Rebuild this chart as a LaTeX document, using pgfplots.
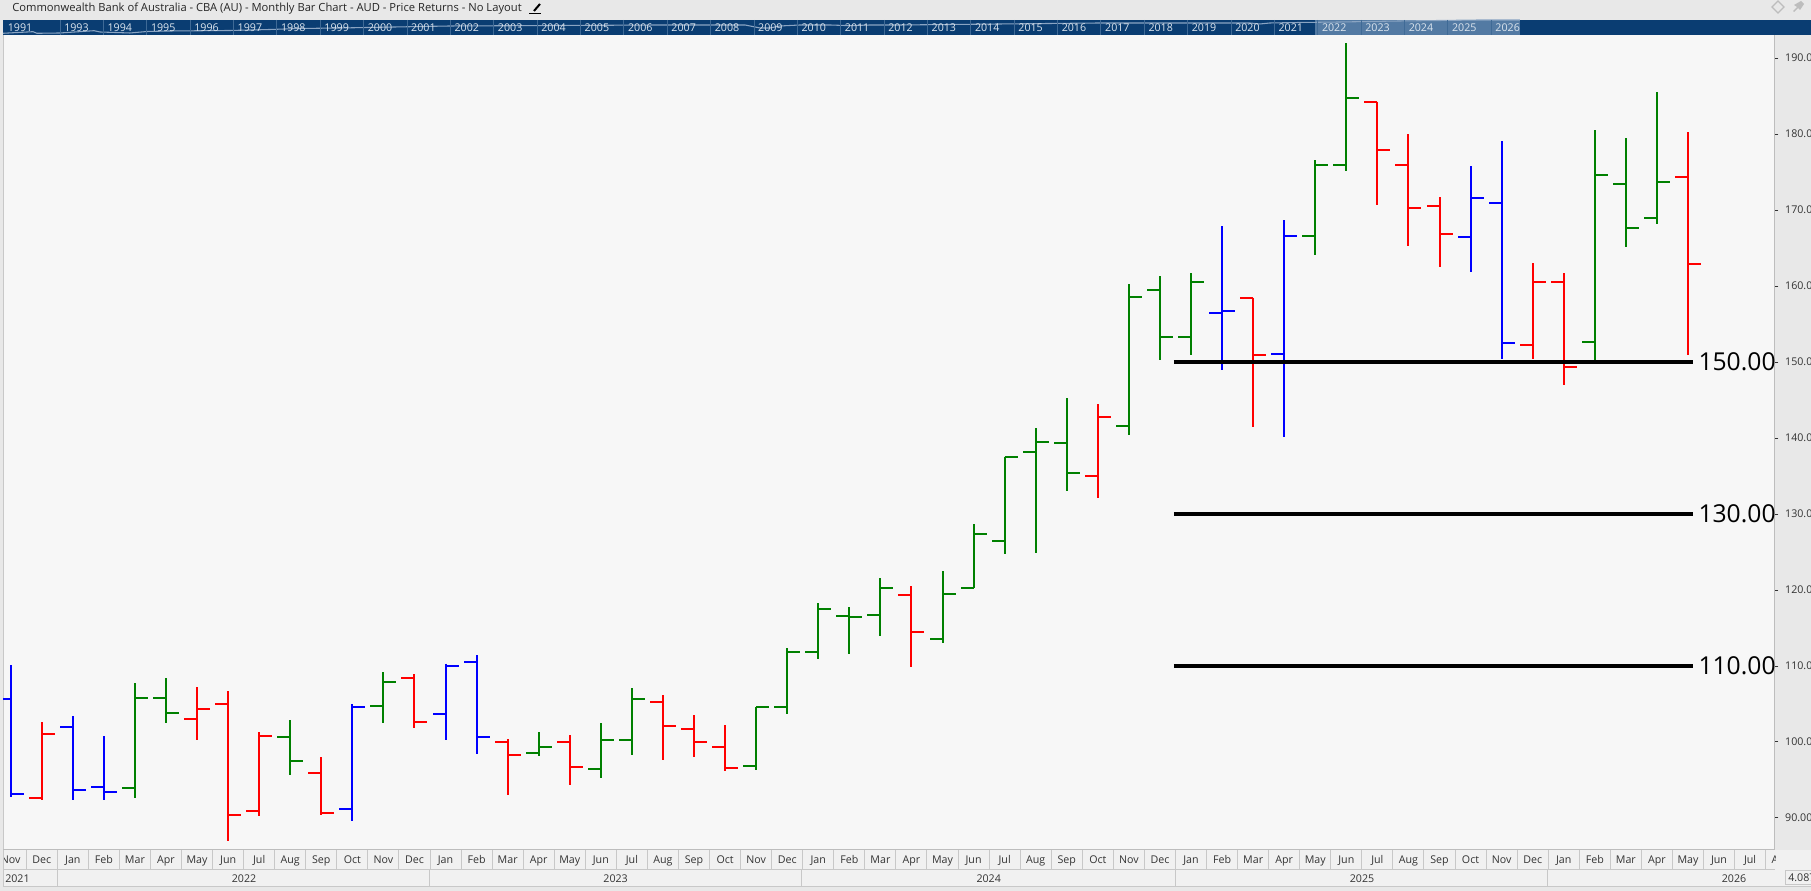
\documentclass[border=0pt]{standalone}
\usepackage{fontspec}
\setmainfont{Open Sans}
\usepackage{pgfplots}
\usepackage{pgfplotstable}
\pgfplotsset{compat=1.18}
\definecolor{navb}{HTML}{0A3D72}
\definecolor{navs}{HTML}{537AA3}
\definecolor{navd}{HTML}{3F6A96}
\definecolor{navl}{HTML}{DCE5EE}
\definecolor{spark}{HTML}{8AA4C2}
\definecolor{barg}{HTML}{008000}
\definecolor{plotbg}{HTML}{F7F7F7}
\definecolor{shell}{HTML}{E8E8E8}
\definecolor{band}{HTML}{F1F1F1}
\definecolor{divi}{HTML}{C8C8C8}
\definecolor{axl}{HTML}{BDBDBD}
\definecolor{txt}{HTML}{333333}
\pgfplotstableread{
i o h l c
0 105.66 110.13 92.72 93.16
2 101.97 103.38 92.41 93.68
3 94.12 100.74 92.41 93.42
11 91.18 104.95 89.65 104.60
14 103.68 110.31 100.31 110.00
15 110.53 111.40 98.46 100.66
39 156.45 167.85 148.95 156.71
41 151.10 168.64 140.18 166.58
47 166.45 175.74 161.84 171.58
48 170.96 179.03 150.40 152.50
}\tblue
\pgfplotstableread{
i o h l c
1 92.63 102.59 92.41 101.05
6 103.03 107.19 100.31 104.34
7 105.04 106.67 87.02 90.39
8 90.92 101.27 90.31 100.79
10 95.92 97.98 90.35 90.66
13 108.42 108.90 101.88 102.67
16 100.04 100.35 93.03 98.29
18 100.04 100.88 94.38 96.71
21 105.30 106.14 97.67 102.10
22 101.71 103.50 98.07 100.00
23 99.34 102.19 96.22 96.58
29 119.34 120.48 109.91 114.47
35 135.00 144.43 132.15 142.76
40 158.42 158.46 141.49 150.92
44 184.25 184.25 170.66 177.89
45 175.92 179.95 165.26 170.26
46 170.53 171.67 162.50 166.84
49 152.24 162.98 150.40 160.52
50 160.52 161.67 146.97 149.34
54 174.34 180.22 150.92 162.89
}\tred
\pgfplotstableread{
i o h l c
4 93.99 107.72 92.67 105.79
5 105.79 108.38 102.54 103.86
9 100.66 102.85 95.70 97.50
12 104.74 109.17 102.54 107.89
17 98.55 101.27 98.20 99.34
19 96.49 102.45 95.30 100.26
20 100.26 107.06 98.33 105.65
24 96.84 104.65 96.36 104.60
25 104.60 112.32 103.73 111.84
26 111.84 118.24 110.96 117.50
27 116.58 117.72 111.62 116.44
28 116.71 121.53 114.00 120.26
30 113.55 122.45 113.07 119.47
31 120.26 128.64 120.26 127.36
32 126.45 137.54 124.78 137.50
33 138.16 141.27 124.91 139.47
34 139.34 145.22 133.07 135.39
36 141.58 160.26 140.44 158.55
37 159.47 161.31 150.31 153.29
38 153.29 161.71 150.92 160.53
42 166.58 176.53 164.08 175.92
43 175.92 191.93 175.13 184.74
51 152.63 180.48 150.00 174.60
52 173.42 179.43 165.13 167.63
53 168.95 185.48 168.16 173.68
}\tgreen
\newcommand\ohlc[2]{%
  \addplot[draw=none,mark=none,forget plot,error bars/.cd,y dir=minus,y explicit,error mark=none,
    error bar style={line width=1.5pt,color=#2}]
    table[x=i,y=h,y error expr=\thisrow{h}-\thisrow{l}]{#1};
  \addplot[draw=none,mark=none,forget plot,error bars/.cd,x dir=minus,x fixed=0.4185,error mark=none,
    error bar style={line width=1.5pt,color=#2}]
    table[x=i,y=o]{#1};
  \addplot[draw=none,mark=none,forget plot,error bars/.cd,x dir=plus,x fixed=0.4185,error mark=none,
    error bar style={line width=1.5pt,color=#2}]
    table[x=i,y=c]{#1};
}
\newcommand\fs{\fontsize{8}{9.6}\selectfont}
\begin{document}
\begin{tikzpicture}
\path[use as bounding box] (0,0) rectangle (1358.25pt,668.25pt);
\begin{scope}[shift={(0,668.25pt)},x=0.75pt,y=-0.75pt]
  \fill[shell] (0,0) rectangle (1811,891);
  \fill[navb] (3,20) rectangle (1811,35);
  \fill[navs] (1315,20) rectangle (1520,35);
  \fill[plotbg] (3,35) rectangle (1775,850);
  \fill[band] (3,850) rectangle (1811,887);
  \draw[divi,line width=0.75pt] (3,35)--(3,887);
  \draw[divi,line width=0.75pt] (3,870)--(1775,870);
  \draw[divi,line width=0.75pt] (3,887)--(1811,887);
  \foreach \i in {0,...,56}{
    \pgfmathsetmacro\xx{10.7+31.06*(\i+0.5)}
    \draw[divi,line width=0.75pt] (\xx,850)--(\xx,870);
  }
  \foreach \xx in {57.7,429.5,801.6,1175,1547.6}{
    \draw[divi,line width=0.75pt] (\xx,870)--(\xx,887);
  }
  \fill[band] (1785,870) rectangle (1811,885);
  \draw[divi,line width=0.75pt] (1785.5,870.5) rectangle (1812,885);
\end{scope}
% overview sparkline in the navigation band, in pixel coordinates
\begin{axis}[at={(0pt,0pt)},anchor=south west,scale only axis,width=1358.25pt,height=668.25pt,
  xmin=0,xmax=1811,ymin=0,ymax=891,y dir=reverse,hide axis]
  \addplot[spark,line width=0.8pt] coordinates {
    (3,33.3)(33,31.7)(37,33.3)(60,33)(94,30.7)(100,32)(130,33)(147,31.5)(170,31)(230,30.5)
    (270,29.5)(300,28.5)(340,28)(450,26)(560,25.5)(660,25)(710,25)(745,25)(750,26)(755,27)
    (760,28)(770,28)(780,26)(800,25)(830,25)(850,25.7)(870,25)(900,25)(950,24.5)(1000,24)
    (1100,23)(1200,23)(1250,23)(1260,24)(1270,23)(1300,22.5)(1340,22)(1400,21)(1440,20.5)(1480,20)(1520,20)};
\end{axis}
\begin{axis}[at={(2.25pt,30.75pt)},anchor=south west,scale only axis,
  width=1329pt,height=611.25pt,
  xmin=-0.248,xmax=56.80,ymin=85.79,ymax=193.03,
  axis y line*=right,axis x line*=bottom,
  axis line style={-,draw=axl,line width=0.75pt},
  tick align=outside,major tick length=2.6pt,
  xtick={0,...,56},
  xticklabels={Nov,Dec,Jan,Feb,Mar,Apr,May,Jun,Jul,Aug,Sep,Oct,Nov,Dec,Jan,Feb,Mar,Apr,May,Jun,Jul,Aug,Sep,Oct,Nov,Dec,Jan,Feb,Mar,Apr,May,Jun,Jul,Aug,Sep,Oct,Nov,Dec,Jan,Feb,Mar,Apr,May,Jun,Jul,Aug,Sep,Oct,Nov,Dec,Jan,Feb,Mar,Apr,May,Jun,Jul},
  x tick style={draw=none},
  x tick label style={font=\fs,text=txt,anchor=base,yshift=-7.2pt},
  ytick={90,100,...,190},
  y tick style={draw=txt,line width=0.75pt},
  y tick label style={font=\fs,text=txt,anchor=west,xshift=1.5pt},
  yticklabel={\pgfmathprintnumber[fixed,fixed zerofill,precision=2,assume math mode=true]{\tick}},
  clip mode=individual]
  \ohlc{\tgreen}{barg}
  \ohlc{\tred}{red}
  \ohlc{\tblue}{blue}
  \addplot[black,line width=2.5pt,forget plot] coordinates {(37.45,150)(54.16,150)};
  \addplot[black,line width=2.5pt,forget plot] coordinates {(37.45,130)(54.16,130)};
  \addplot[black,line width=2.5pt,forget plot] coordinates {(37.45,110)(54.16,110)};
  \node[anchor=west,inner sep=0pt,font=\fontsize{18.5}{22}\selectfont] at (axis cs:54.33,150) {150.00};
  \node[anchor=west,inner sep=0pt,font=\fontsize{18.5}{22}\selectfont] at (axis cs:54.33,130) {130.00};
  \node[anchor=west,inner sep=0pt,font=\fontsize{18.5}{22}\selectfont] at (axis cs:54.33,110) {110.00};
\end{axis}
\begin{scope}[shift={(0,668.25pt)},x=0.75pt,y=-0.75pt]
  \fill[shell] (0,850) rectangle (2.6,891);
  \draw[divi,line width=0.75pt] (3,850)--(3,887);
  \begin{scope}
    \clip (3,850) rectangle (1775,870);
    \pgfmathsetmacro\xx{10.7+31.06*57}
    \node[anchor=base,inner sep=0pt,font=\fs,text=txt] at (\xx,864) {Aug};
  \end{scope}
  \node[anchor=base west,inner sep=0pt,font=\fs,text=txt] at (5,883) {2021};
  \node[anchor=base,inner sep=0pt,font=\fs,text=txt] at (244,883) {2022};
  \node[anchor=base,inner sep=0pt,font=\fs,text=txt] at (615.6,883) {2023};
  \node[anchor=base,inner sep=0pt,font=\fs,text=txt] at (988.7,883) {2024};
  \node[anchor=base,inner sep=0pt,font=\fs,text=txt] at (1362,883) {2025};
  \node[anchor=base,inner sep=0pt,font=\fs,text=txt] at (1734,883) {2026};
  \begin{scope}
    \clip (1786,871) rectangle (1811,885);
    \node[anchor=base west,inner sep=0pt,font=\fs,text=txt] at (1788,882) {4.087};
  \end{scope}
  \node[anchor=base west,inner sep=0pt,font=\fontsize{8.4}{10}\selectfont,text=black!85] at (12,12) {Commonwealth Bank of Australia - CBA (AU) - Monthly Bar Chart - AUD - Price Returns - No Layout};
  \draw[black,line width=1.5pt] (534,11)--(540,4);
  \draw[black,line width=0.75pt] (529,14)--(541,14);
  \draw[axl,line width=1pt] (1778,1)--(1784,7)--(1778,13)--(1772,7)--cycle;
  \fill[axl] (1793,11)--(1797,7)--(1794,5)--(1801,1)--(1804,4)--(1800,10)--(1798,8)--(1794,12)--cycle;
  \foreach \y/\xx in {1991/7.6}{\node[anchor=base west,inner sep=0pt,font=\fs,text=navl] at (\xx,32) {\y};}
  \foreach \y in {1993,...,2026}{
    \pgfmathsetmacro\xd{60+43.37*(\y-1993)}
    \pgfmathsetmacro\xt{\xd+4}
    \draw[navd,line width=0.6pt] (\xd,20)--(\xd,35);
    \node[anchor=base west,inner sep=0pt,font=\fs,text=navl] at (\xt,32) {\y};
  }
\end{scope}
\end{tikzpicture}
\end{document}
